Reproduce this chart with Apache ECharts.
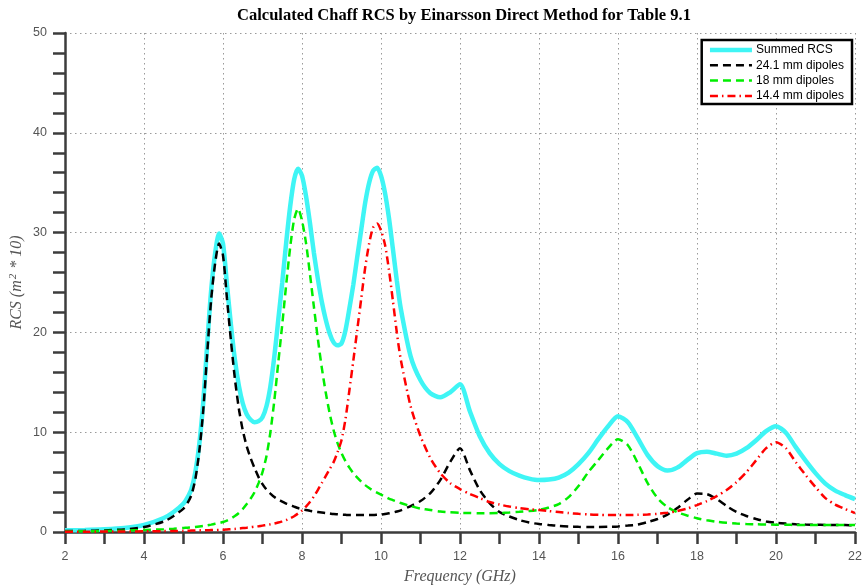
<!DOCTYPE html>
<html>
<head>
<meta charset="utf-8">
<title>Calculated Chaff RCS</title>
<script src="https://cdn.jsdelivr.net/npm/echarts@6/dist/echarts.min.js"></script>
<style>
  html, body { margin: 0; padding: 0; background: #fff; }
  #chart { width: 865px; height: 587px; }
</style>
</head>
<body>
<div id="chart"></div>
<script>
// Frequency samples (GHz)
const freqGHz = [
  2.0, 2.5, 3.0, 3.5, 4.0, 4.5, 4.75, 5.0,
  5.1, 5.2, 5.3, 5.4, 5.5, 5.6, 5.7, 5.8, 5.9, 6.0,
  6.1, 6.2, 6.3, 6.4, 6.5, 6.6, 6.7, 6.8, 6.9, 7.0,
  7.1, 7.2, 7.3, 7.4, 7.5, 7.6, 7.7, 7.8, 7.9, 8.0,
  8.1, 8.2, 8.3, 8.4, 8.5, 8.6, 8.7, 8.8, 8.9, 9.0,
  9.1, 9.2, 9.3, 9.4, 9.5, 9.6, 9.7, 9.8, 9.9, 10.0,
  10.1, 10.2, 10.3, 10.4, 10.5,
  10.75, 11.0, 11.25, 11.5, 11.75, 12.0, 12.25, 12.5, 12.75, 13.0,
  13.25, 13.5, 13.75, 14.0, 14.25, 14.5, 14.75, 15.0, 15.25, 15.5,
  15.75, 16.0, 16.25, 16.5, 16.75, 17.0, 17.25, 17.5, 17.75, 18.0,
  18.25, 18.5, 18.75, 19.0, 19.25, 19.5, 19.75, 20.0, 20.25, 20.5,
  20.75, 21.0, 21.25, 21.5, 21.75, 22.0
];

// Summed RCS (m^2 * 10)
const summedRCS = [
  0.17, 0.20, 0.27, 0.40, 0.70, 1.40, 2.00, 2.85,
  3.45, 4.30, 6.00, 8.80, 13.0, 18.8, 24.2, 27.9, 29.9, 28.9,
  24.8, 20.8, 17.3, 14.7, 12.9, 11.8, 11.25, 11.0, 11.1, 11.5,
  12.6, 14.6, 17.6, 21.3, 25.0, 29.0, 32.6, 35.3, 36.4, 35.7,
  33.7, 31.0, 28.0, 25.4, 23.1, 21.3, 19.9, 19.0, 18.7, 18.9,
  20.2, 22.4, 24.8, 27.6, 30.3, 33.0, 35.0, 36.2, 36.5, 35.7,
  34.0, 31.5, 28.4, 25.2, 22.4,
  17.6, 15.2, 13.9, 13.5, 14.0, 14.8, 12.1, 9.6, 7.9, 6.8,
  6.1, 5.65, 5.35, 5.2, 5.25, 5.45, 5.95, 6.8, 7.9, 9.3,
  10.6, 11.6, 11.0, 9.4, 7.7, 6.6, 6.15, 6.45, 7.2, 7.9,
  8.05, 7.85, 7.65, 7.85, 8.4, 9.2, 10.1, 10.6, 9.95, 8.5,
  7.15, 5.9, 4.85, 4.15, 3.7, 3.3
];

// 24.1 mm dipoles
const dipoles241 = [
  0.10, 0.12, 0.16, 0.26, 0.50, 1.05, 1.60, 2.35,
  2.90, 3.70, 5.30, 8.10, 12.2, 17.9, 23.3, 26.9, 28.9, 27.7,
  23.4, 19.2, 15.4, 12.4, 10.2, 8.6, 7.4, 6.4, 5.5, 4.8,
  4.25, 3.85, 3.5, 3.25, 3.05, 2.85, 2.7, 2.55, 2.4, 2.3,
  2.2, 2.12, 2.05, 2.0, 1.95, 1.9, 1.85, 1.8, 1.77, 1.74,
  1.72, 1.7, 1.7, 1.7, 1.7, 1.7, 1.7, 1.7, 1.72, 1.75,
  1.8, 1.87, 1.95, 2.05, 2.17,
  2.6, 3.1, 3.9, 5.2, 7.0, 8.4, 6.2, 4.2, 2.9, 2.0,
  1.55, 1.2, 0.95, 0.8, 0.7, 0.62, 0.56, 0.52, 0.5, 0.5,
  0.52, 0.56, 0.64, 0.75, 1.0, 1.3, 1.75, 2.4, 3.2, 3.85,
  3.8, 3.3, 2.6, 2.0, 1.6, 1.3, 1.05, 0.92, 0.84, 0.78,
  0.74, 0.72, 0.71, 0.7, 0.69, 0.68
];

// 18 mm dipoles
const dipoles18 = [
  0.05, 0.07, 0.10, 0.14, 0.20, 0.28, 0.33, 0.40,
  0.43, 0.47, 0.51, 0.56, 0.61, 0.67, 0.74, 0.82, 0.90, 1.00,
  1.15, 1.35, 1.60, 1.90, 2.30, 2.80, 3.35, 4.00, 4.90, 6.00,
  7.60, 10.0, 13.2, 17.0, 20.8, 24.8, 28.5, 31.3, 32.4, 31.2,
  29.0, 25.9, 22.6, 19.4, 16.5, 14.0, 11.9, 10.2, 8.9, 7.9,
  7.1, 6.45, 5.9, 5.45, 5.05, 4.7, 4.4, 4.15, 3.95, 3.75,
  3.55, 3.35, 3.2, 3.05, 2.9,
  2.6, 2.35, 2.2, 2.05, 1.97, 1.92, 1.9, 1.88, 1.88, 1.9,
  1.95, 2.02, 2.1, 2.22, 2.45, 2.8, 3.5, 4.6, 6.0, 7.2,
  8.4, 9.3, 8.7, 6.9, 4.9, 3.4, 2.5, 1.98, 1.65, 1.38,
  1.17, 1.02, 0.92, 0.85, 0.8, 0.77, 0.75, 0.73, 0.72, 0.71,
  0.7, 0.7, 0.7, 0.7, 0.7, 0.7
];

// 14.4 mm dipoles
const dipoles144 = [
  0.02, 0.03, 0.04, 0.05, 0.07, 0.09, 0.10, 0.12,
  0.13, 0.14, 0.15, 0.16, 0.17, 0.18, 0.19, 0.20, 0.21, 0.22,
  0.25, 0.28, 0.31, 0.35, 0.39, 0.43, 0.48, 0.53, 0.58, 0.64,
  0.70, 0.77, 0.85, 0.95, 1.07, 1.20, 1.37, 1.58, 1.85, 2.15,
  2.55, 3.0, 3.55, 4.2, 4.9, 5.6, 6.3, 7.0, 8.0, 9.2,
  11.3, 14.2, 17.2, 20.3, 23.4, 26.5, 28.9, 30.5, 30.9, 30.2,
  28.8, 26.3, 23.2, 20.0, 17.3,
  12.6, 9.6, 7.4, 5.9, 4.9, 4.3, 3.8, 3.4, 3.0, 2.75,
  2.55, 2.4, 2.28, 2.2, 2.1, 2.0, 1.9, 1.82, 1.76, 1.72,
  1.7, 1.7, 1.7, 1.72, 1.76, 1.82, 1.92, 2.1, 2.35, 2.7,
  3.1, 3.6, 4.2, 5.0, 6.0, 7.2, 8.4, 9.0, 8.4, 7.0,
  5.7, 4.5, 3.4, 2.75, 2.3, 1.9
];

// Axis ticks
const xTicks = { min: 2, max: 22, step: 2, minorSplit: 2 };
const yTicks = { min: 0, max: 50, step: 10, minorSplit: 5 };

const seriesNames = ['Summed RCS', '24.1 mm dipoles', '18 mm dipoles', '14.4 mm dipoles'];

function pairs(values) {
  return freqGHz.map((f, i) => [f, values[i]]);
}

const axisDark = '#3c3c3c';
const gridDots = { color: '#9a9a9a', width: 1, type: [1.5, 3.5] };
const tickFont = { color: '#555', fontSize: 12.5, fontFamily: 'Liberation Sans, Arial, sans-serif' };
const nameFont = { color: '#555', fontSize: 16, fontStyle: 'italic', fontFamily: 'Liberation Serif, Times New Roman, serif' };

const chart = echarts.init(document.getElementById('chart'), null, { renderer: 'canvas' });

function lineSeries(name, values, style, z) {
  return {
    name: name, type: 'line', data: pairs(values),
    showSymbol: false, symbol: 'none', symbolSize: 0, smooth: 0.25, silent: true,
    lineStyle: style, itemStyle: { color: style.color, opacity: 0 }, z: z
  };
}

chart.setOption({
  animation: false,
  backgroundColor: '#fff',
  title: {
    text: 'Calculated Chaff RCS by Einarsson Direct Method for Table 9.1',
    left: 459,
    textAlign: 'center',
    top: 2,
    textStyle: {
      fontFamily: 'Liberation Serif, Times New Roman, serif',
      fontWeight: 'bold',
      fontSize: 16.5,
      color: '#000'
    }
  },
  grid: { left: 65, right: 10, top: 33, bottom: 55, containLabel: false, outerBoundsMode: 'none' },
  legend: {
    data: seriesNames,
    orient: 'vertical',
    right: 13,
    top: 40,
    padding: [4, 8, 2, 6],
    itemWidth: 42,
    itemHeight: 12,
    itemGap: 3.3,
    borderColor: '#000',
    borderWidth: 2.5,
    borderRadius: 0,
    backgroundColor: '#fff',
    selectedMode: false,
    itemStyle: { opacity: 0, borderWidth: 0 },
    lineStyle: { width: 'inherit', type: 'inherit' },
    textStyle: { color: '#000', fontSize: 12, fontFamily: 'Liberation Sans, Arial, sans-serif', padding: [0, 0, 0, -1] }
  },
  xAxis: {
    type: 'value',
    min: xTicks.min,
    max: xTicks.max,
    interval: xTicks.step,
    name: 'Frequency (GHz)',
    nameLocation: 'middle',
    nameGap: 37,
    nameMoveOverlap: false,
    nameTextStyle: nameFont,
    axisLine: { show: true, onZero: false, lineStyle: { color: axisDark, width: 2.5 } },
    axisTick: { show: true, inside: false, length: 12, lineStyle: { color: axisDark, width: 2.5 } },
    minorTick: { show: true, splitNumber: xTicks.minorSplit, length: 12, lineStyle: { color: axisDark, width: 2.5 } },
    axisLabel: Object.assign({ margin: 18 }, tickFont),
    splitLine: { show: true, lineStyle: gridDots }
  },
  yAxis: {
    type: 'value',
    min: yTicks.min,
    max: yTicks.max,
    interval: yTicks.step,
    name: '{t|RCS (m}{s|2}{t| * 10)}',
    nameLocation: 'middle',
    nameGap: 39,
    nameMoveOverlap: false,
    nameRotate: 90,
    nameTextStyle: {
      rich: {
        t: nameFont,
        s: { color: '#555', fontSize: 11, fontStyle: 'italic', fontFamily: 'Liberation Serif, Times New Roman, serif', verticalAlign: 'top', padding: [0, 1, 7, 1] }
      }
    },
    axisLine: { show: true, onZero: false, lineStyle: { color: axisDark, width: 2.5 } },
    axisTick: { show: true, inside: false, length: 12, lineStyle: { color: axisDark, width: 2.5 } },
    minorTick: { show: true, splitNumber: yTicks.minorSplit, length: 12, lineStyle: { color: axisDark, width: 2.5 } },
    axisLabel: Object.assign({ margin: 18 }, tickFont),
    splitLine: { show: true, lineStyle: gridDots }
  },
  series: [
    lineSeries(seriesNames[0], summedRCS, { color: '#3ff5f5', width: 4.5 }, 2),
    lineSeries(seriesNames[1], dipoles241, { color: '#000000', width: 2.5, type: [8, 5] }, 3),
    lineSeries(seriesNames[2], dipoles18, { color: '#00ee00', width: 2.5, type: [8, 5] }, 4),
    lineSeries(seriesNames[3], dipoles144, { color: '#ff0000', width: 2.5, type: [8, 4, 1.5, 4] }, 5)
  ]
});
</script>
</body>
</html>
